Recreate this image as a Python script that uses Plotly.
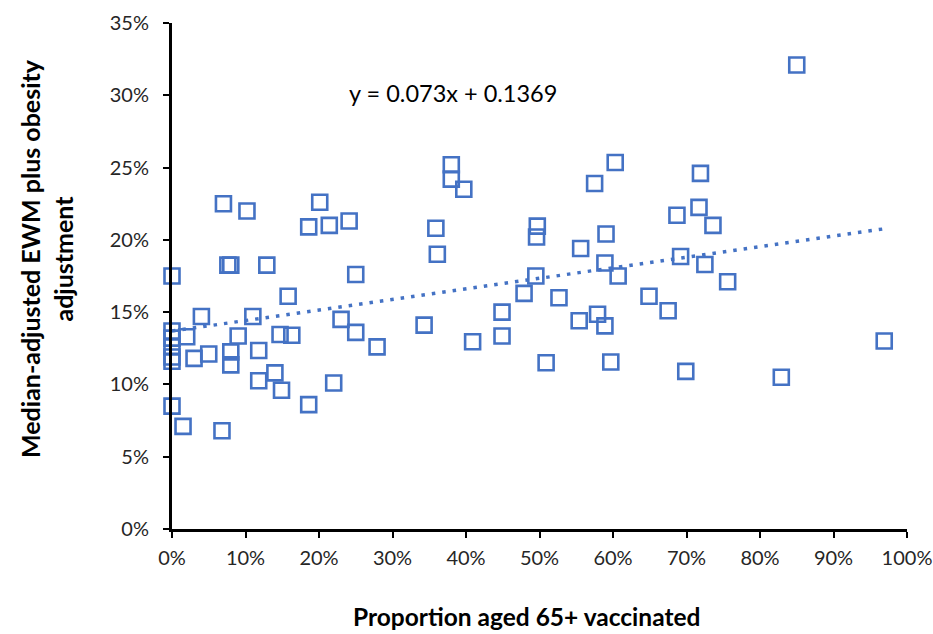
import plotly.graph_objects as go

# Proportion aged 65+ vaccinated (fraction)
vaccinated = [
    0.000, 0.000, 0.000, 0.000, 0.000, 0.000, 0.000,
    0.070, 0.102, 0.201, 0.186, 0.214, 0.241, 0.076, 0.080, 0.129, 0.250, 0.158,
    0.040, 0.110, 0.230, 0.020, 0.090, 0.147, 0.163, 0.250, 0.030, 0.050, 0.080,
    0.080, 0.118, 0.279, 0.118, 0.140, 0.149, 0.220, 0.186, 0.015, 0.068,
    0.380, 0.380, 0.397, 0.603, 0.575, 0.359, 0.361, 0.497, 0.496, 0.5905, 0.556,
    0.589, 0.495, 0.607, 0.479, 0.5265, 0.649, 0.449, 0.343, 0.554, 0.579, 0.589,
    0.449, 0.409, 0.509, 0.597,
    0.719, 0.687, 0.717, 0.736, 0.692, 0.725, 0.756, 0.675, 0.969, 0.699, 0.829, 0.850,
]

# Median-adjusted EWM plus obesity adjustment (fraction)
ewm_adjusted = [
    0.175, 0.137, 0.132, 0.126, 0.119, 0.116, 0.085,
    0.225, 0.220, 0.226, 0.209, 0.210, 0.213, 0.1825, 0.1825, 0.1825, 0.176, 0.161,
    0.147, 0.147, 0.145, 0.133, 0.1335, 0.1345, 0.134, 0.136, 0.118, 0.121, 0.1225,
    0.1135, 0.1235, 0.126, 0.1025, 0.108, 0.096, 0.101, 0.086, 0.071, 0.068,
    0.252, 0.242, 0.235, 0.2535, 0.239, 0.208, 0.190, 0.2095, 0.202, 0.204, 0.194,
    0.184, 0.175, 0.175, 0.163, 0.160, 0.161, 0.150, 0.141, 0.144, 0.1485, 0.1405,
    0.1335, 0.1295, 0.115, 0.1155,
    0.246, 0.217, 0.2225, 0.210, 0.1885, 0.183, 0.171, 0.151, 0.130, 0.109, 0.105, 0.321,
]

# Linear trendline shown on chart
slope = 0.073
intercept = 0.1369
equation_label = "y = 0.073x + 0.1369"

x_title = "Proportion aged 65+ vaccinated"
y_title_lines = ["Median-adjusted EWM plus obesity", "adjustment"]

blue = "#4472C4"
font_family = "Lato, 'Open Sans', sans-serif"
tick_color = "#262626"

x_trend = [0.0, max(vaccinated)]
y_trend = [slope * v + intercept for v in x_trend]

fig = go.Figure()
fig.add_trace(go.Scatter(
    x=x_trend, y=y_trend, mode="lines",
    line=dict(color=blue, width=3.5, dash="3.5px,7px"),
    showlegend=False,
))
fig.add_trace(go.Scatter(
    x=vaccinated, y=ewm_adjusted, mode="markers",
    marker=dict(symbol="square-open", size=15, color=blue, line=dict(width=2.6, color=blue)),
    showlegend=False, cliponaxis=False,
))

fig.update_layout(
    width=933, height=634,
    margin=dict(l=172, r=26, t=23, b=105, autoexpand=False),
    paper_bgcolor="white", plot_bgcolor="white",
    font=dict(family=font_family, color=tick_color),
    xaxis=dict(
        range=[0, 1], dtick=0.1, tickformat=".0%",
        showgrid=False, zeroline=False, automargin=False,
        showline=True, linecolor="black", linewidth=3,
        ticks="outside", ticklen=6, tickwidth=2, tickcolor="black",
        tickfont=dict(size=20, family=font_family, color=tick_color),
        ticklabelstandoff=3,
    ),
    yaxis=dict(
        range=[0, 0.35], dtick=0.05, tickformat=".0%",
        showgrid=False, zeroline=False, automargin=False,
        showline=True, linecolor="black", linewidth=3,
        ticks="outside", ticklen=6, tickwidth=2, tickcolor="black",
        tickfont=dict(size=20, family=font_family, color=tick_color),
        ticklabelstandoff=10,
    ),
    annotations=[
        dict(text=equation_label, x=(347 - 172) / 735, y=(529 - 93) / 506,
             xref="paper", yref="paper", xanchor="left", yanchor="middle",
             showarrow=False, font=dict(size=23.5, family=font_family, color="black")),
        dict(text="<b>" + x_title + "</b>", x=(526 - 172) / 735, y=(529 - 616) / 506,
             xref="paper", yref="paper", xanchor="center", yanchor="middle",
             showarrow=False, font=dict(size=24.5, family=font_family, color="black")),
        dict(text="<br>".join("<b>" + s + "</b>" for s in y_title_lines),
             x=(46 - 172) / 735, y=(529 - 259) / 506,
             xref="paper", yref="paper", xanchor="center", yanchor="middle",
             textangle=-90, showarrow=False,
             font=dict(size=25, family=font_family, color="black")),
    ],
)

fig.write_html("out.html")
